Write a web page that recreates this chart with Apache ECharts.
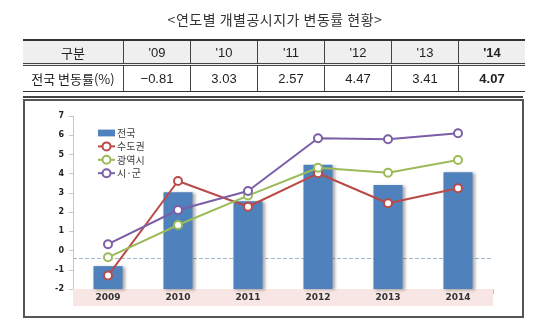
<!DOCTYPE html>
<html><head><meta charset="utf-8">
<script src="https://cdn.jsdelivr.net/npm/echarts@6/dist/echarts.min.js"></script>
<style>
html,body{margin:0;padding:0;background:#fff;}
#wrap{position:relative;width:550px;height:332px;overflow:hidden;}
#chart{position:absolute;left:0;top:0;width:550px;height:332px;}
#frame{position:absolute;left:23px;top:99px;width:497px;height:215px;border:2px solid #555;box-sizing:content-box;}
#title{position:absolute;left:0;top:9px;width:550px;text-align:center;font:14px "Noto Sans CJK KR",sans-serif;color:#333;letter-spacing:0.5px;}
#tbl{position:absolute;left:23px;top:39px;border-collapse:collapse;font-family:"Liberation Sans","Noto Sans CJK KR",sans-serif;color:#222;}
#tbl td{border-left:1px solid #444;border-right:1px solid #444;text-align:center;padding:0;font-size:13px;}
#tbl tr.h td{background:#efefef;height:22px;border-top:2px solid #333;border-bottom:3px double #444;}
#tbl tr.d td{height:25px;border-bottom:1px solid #333;}
#tbl td:first-child{border-left:none;}
#tbl td:last-child{border-right:none;}
#bline{position:absolute;left:23px;top:96px;width:500px;height:2px;background:#444;}
</style></head>
<body><div id="wrap">
<div id="chart"></div>
<div id="frame"></div>
<div id="title"></div>
<table id="tbl"></table>
<div id="bline"></div>
</div>
<script>
var years = ['2009','2010','2011','2012','2013','2014'];
var tableYears = ["'09","'10","'11","'12","'13","'14"];
var nationwide = [-0.81, 3.03, 2.57, 4.47, 3.41, 4.07];
var capital = [-1.3, 3.62, 2.28, 4.02, 2.46, 3.24];
var metro = [-0.35, 1.33, 2.86, 4.31, 4.05, 4.71];
var cities = [0.33, 2.11, 3.1, 5.84, 5.79, 6.1];
var seriesNames = ['전국','수도권','광역시','시·군'];
var titleText = '<연도별 개별공시지가 변동률 현황>';
var rowHeader = '구분';
var rowLabel = '전국 변동률(%)';
var refLine = -0.4;
var yMin = -2, yMax = 7;

document.getElementById('title').textContent = titleText;
var tbl = document.getElementById('tbl');
var h = '<tr class="h"><td style="width:100px;font-family:\'Noto Sans CJK KR\'">' + rowHeader + '</td>';
tableYears.forEach(function(y,i){ h += '<td style="width:66px;' + (i===5?'font-weight:bold;':'') + '">' + y + '</td>'; });
h += '</tr><tr class="d"><td style="font-family:\'Noto Sans CJK KR\';font-size:13px">' + rowLabel + '</td>';
nationwide.forEach(function(v,i){ h += '<td style="' + (i===5?'font-weight:bold;':'') + '">' + (v<0?'\u2212'+Math.abs(v).toFixed(2):v.toFixed(2)) + '</td>'; });
h += '</tr>';
tbl.innerHTML = h;

var chart = echarts.init(document.getElementById('chart'));
var lineStyle = function(c){ return {
  type:'line', symbol:'circle', symbolSize:8, showSymbol:true,
  itemStyle:{color:'#fff', borderColor:c, borderWidth:2},
  lineStyle:{color:c, width:2}, z:3
};};
var s1 = lineStyle('#b94a48'); s1.name = seriesNames[1]; s1.data = capital;
var s2 = lineStyle('#9bbb59'); s2.name = seriesNames[2]; s2.data = metro;
var s3 = lineStyle('#7b5ea6'); s3.name = seriesNames[3]; s3.data = cities;
chart.setOption({
  animation:false,
  grid:{left:73, right:57, top:116, bottom:43},
  legend:{
    orient:'vertical', left:92, top:123, itemGap:3.4, itemWidth:17, itemHeight:10,
    textStyle:{fontSize:10, color:'#404040', fontFamily:'Noto Sans CJK KR', padding:[0,0,0,-3]},
    data:[{name:seriesNames[0], icon:'path://M0,2 L15,2 L15,8 L0,8 Z', itemStyle:{color:'#4f81bd'}}, seriesNames[1], seriesNames[2], seriesNames[3]]
  },
  xAxis:{
    type:'category', data:years,
    axisLine:{onZero:false, lineStyle:{color:'#bfbfbf'}},
    axisTick:{show:true, length:5, lineStyle:{color:'#bfbfbf'}},
    axisLabel:{margin:0, fontSize:9, fontWeight:'bold', color:'#333', fontFamily:'DejaVu Sans',
      backgroundColor:'#f7e6e4', width:70, height:17, lineHeight:17, align:'center'}
  },
  yAxis:{
    type:'value', min:yMin, max:yMax, interval:1,
    splitLine:{show:false},
    axisLine:{show:true, lineStyle:{color:'#c8c8c8'}},
    axisTick:{show:true, length:4, lineStyle:{color:'#c8c8c8'}},
    axisLabel:{margin:9, fontSize:8, fontWeight:'bold', color:'#222', fontFamily:'DejaVu Sans'}
  },
  series:[
    {name:seriesNames[0], type:'custom', data:nationwide.map(function(v,i){return [i,v];}),
     encode:{x:0, y:1}, z:2,
     itemStyle:{color:'#4f81bd'},
     renderItem:function(params, api){
       var top = api.coord([api.value(0), api.value(1)]);
       var base = api.coord([api.value(0), yMin]);
       var w = api.size([1,0])[0]*0.415;
       return {type:'rect', z2:10, shape:{x:top[0]-w/2, y:top[1], width:w, height:base[1]-top[1]},
         style:{fill:'#4f81bd', shadowColor:'rgba(0,0,0,0.35)', shadowOffsetX:2, shadowOffsetY:1, shadowBlur:3}};
     }},
    {name:'ref', type:'line', data:[], z:1, silent:true,
     markLine:{silent:true, symbol:'none', label:{show:false}, z:1,
       lineStyle:{type:'dashed', color:'#9fb6cc', width:1}, data:[{yAxis:refLine}]}},
    s1, s2, s3
  ]
});
</script>
</body></html>
